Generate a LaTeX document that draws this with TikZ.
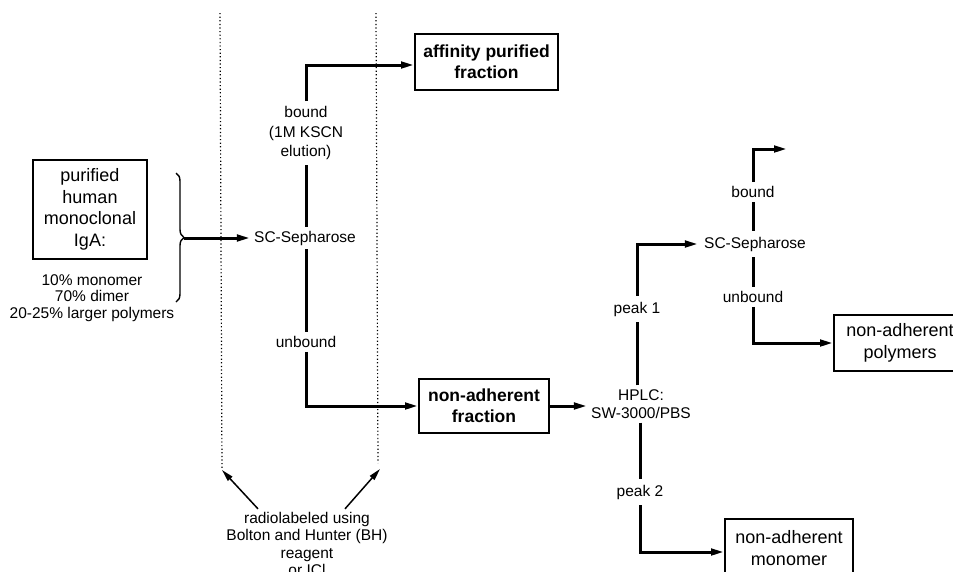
\documentclass[tikz,border=0pt]{standalone}
\usepackage{fontspec}
\setmainfont{Liberation Sans}
\usetikzlibrary{arrows.meta,decorations.pathreplacing}
\begin{document}
\begin{tikzpicture}[x=1pt,y=-1pt,
  flow/.style={line width=3pt},
  arr/.style={flow,-{Triangle[length=13pt,width=6.5pt]}},
  thinarr/.style={line width=1.5pt,-{Triangle[length=12pt,width=6pt]}},
  box/.style={draw,line width=2pt,align=center,inner sep=0pt,font=\fontsize{18}{21.5}\selectfont},
  bbox/.style={box,font=\fontsize{17.5}{21}\selectfont\bfseries},
  lbl/.style={align=center,inner sep=4pt,font=\fontsize{15.5}{19.5}\selectfont},
  dots/.style={line width=1.2pt,dash pattern=on 1.2pt off 2.4pt}]
\useasboundingbox (0,0) rectangle (953,571);

% dotted guide lines
\coordinate (d1t) at (220,13);
\coordinate (d1b) at (222,470);
\coordinate (d2t) at (376,13);
\coordinate (d2b) at (378,463);
\coordinate (d2a) at (380,469);
\draw[dots] (d1t) -- (d1b);
\draw[dots] (d2t) -- (d2b);

% boxes
\node[box,minimum width=114pt,minimum height=99pt] (ig) at (90,209.5) {purified\\human\\monoclonal\\IgA:};
\node[bbox,minimum width=143pt,minimum height=56pt] (aff) at (486.5,62) {affinity purified\\fraction};
\node[bbox,minimum width=130pt,minimum height=54pt] (naf) at (484,406) {non-adherent\\fraction};
\node[box,minimum width=132pt,minimum height=56pt] (pol) at (900,343) {non-adherent\\polymers};
\node[box,minimum width=128pt,minimum height=58pt] (mon) at (789,548) {non-adherent\\monomer};

% composition text and brace
\node[align=center,inner sep=0pt,font=\fontsize{15.5}{16.5}\selectfont] (comp) at (92,298) {10\% monomer\\70\% dimer\\20-25\% larger polymers};
\draw[line width=1.4pt,decorate,decoration={brace,amplitude=8pt}] (176,173) -- (176,302);
\coordinate (bt) at (184,238);

% labels
\node[lbl] (sc1) at (305,238) {SC-Sepharose};
\node[lbl,inner sep=5pt] (bl1) at (306,133) {bound\\(1M KSCN\\elution)};
\node[lbl] (ub1) at (306,342) {unbound};
\node[lbl,font=\fontsize{15.5}{18}\selectfont] (hplc) at (641,404) {HPLC:\\SW-3000/PBS};
\node[lbl,inner sep=6pt] (pk1) at (637,309) {peak 1};
\node[lbl,inner sep=6pt] (pk2) at (640,492) {peak 2};
\node[lbl,inner sep=6pt] (sc2) at (755,244) {SC-Sepharose};
\node[lbl] (bd2) at (753,192) {bound};
\node[lbl] (ub2) at (753,297) {unbound};
\coordinate (e2) at (787,149);
\node[align=center,inner sep=3pt,font=\fontsize{15.5}{17.5}\selectfont] (rad) at (307,544) {radiolabeled using\\Bolton and Hunter (BH)\\reagent\\or ICl};

% connectors, first column
\draw[arr] (bt) -- (bt -| sc1.west);
\draw[flow] (sc1.north -| bl1.south) -- (bl1.south);
\draw[arr] (bl1.north) |- ([yshift=-3pt]aff.west);
\draw[flow] (sc1.south -| ub1.north) -- (ub1.north);
\draw[arr] (ub1.south) |- (naf.west);
\draw[arr] (naf.east) -- (naf.east -| hplc.west);

% second column
\draw[flow] (hplc.north -| pk1.south) -- (pk1.south);
\draw[arr] (pk1.north) |- (sc2.west);
\draw[flow] (hplc.south -| pk2.north) -- (pk2.north);
\draw[arr] (pk2.south) |- ([yshift=-4pt]mon.west);

% third column
\draw[flow] (sc2.north -| bd2.south) -- (bd2.south);
\draw[arr] (bd2.north) |- (e2);
\draw[flow] (sc2.south -| ub2.north) -- (ub2.north);
\draw[arr] (ub2.south) |- (pol.west);

% radiolabel arrows
\draw[thinarr] ([xshift=-49pt]rad.north) -- (d1b);
\draw[thinarr] ([xshift=38pt]rad.north) -- (d2a);
\end{tikzpicture}
\end{document}
